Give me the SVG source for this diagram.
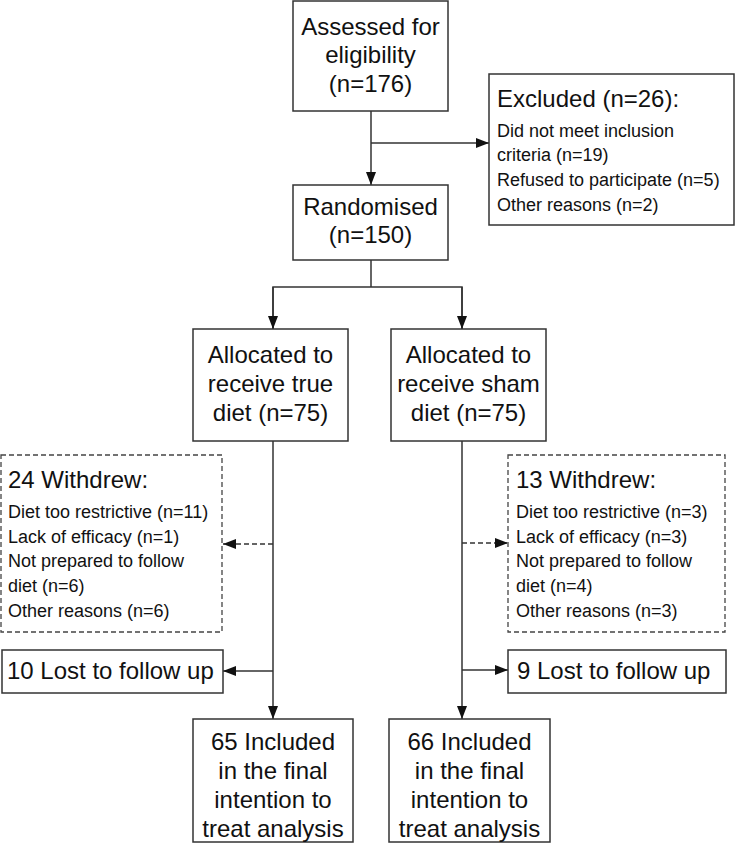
<svg xmlns="http://www.w3.org/2000/svg" width="736" height="853" viewBox="0 0 736 853">
<style>
  .box{fill:#fff;stroke:#333;stroke-width:1.5}
  .dash{fill:#fff;stroke:#444;stroke-width:1.3;stroke-dasharray:5,3}
  .big{font-family:"Liberation Sans",Arial,sans-serif;font-size:24px;fill:#111}
  .sm{font-family:"Liberation Sans",Arial,sans-serif;font-size:18px;fill:#111}
  .c{text-anchor:middle}
  .ln{fill:none;stroke:#333;stroke-width:1.5}
  .dl{fill:none;stroke:#333;stroke-width:1.3;stroke-dasharray:5,3}
</style>
<defs>
  <marker id="ah" markerUnits="userSpaceOnUse" markerWidth="14" markerHeight="10" refX="13" refY="5" orient="auto">
    <path d="M0,0 L13,5 L0,10 Z" fill="#111"/>
  </marker>
</defs>
<rect width="736" height="853" fill="#fff"/>
<g id="connectors">
  <line class="ln" x1="371" y1="111" x2="371" y2="185" marker-end="url(#ah)"/>
  <line class="ln" x1="371" y1="143" x2="489" y2="143" marker-end="url(#ah)"/>
  <polyline class="ln" points="371,260 371,287"/>
  <polyline class="ln" points="273,329 273,287 462,287 462,329" />
  <line class="ln" x1="273" y1="287" x2="273" y2="329" marker-end="url(#ah)"/>
  <line class="ln" x1="462" y1="287" x2="462" y2="329" marker-end="url(#ah)"/>
  <line class="ln" x1="273" y1="441" x2="273" y2="719" marker-end="url(#ah)"/>
  <line class="ln" x1="462" y1="441" x2="462" y2="719" marker-end="url(#ah)"/>
  <line class="dl" x1="273" y1="544" x2="223" y2="544" marker-end="url(#ah)"/>
  <line class="dl" x1="462" y1="543" x2="508" y2="543" marker-end="url(#ah)"/>
  <line class="ln" x1="273" y1="671" x2="223" y2="671" marker-end="url(#ah)"/>
  <line class="ln" x1="462" y1="670" x2="508" y2="670" marker-end="url(#ah)"/>
</g>
<g id="assessed">
  <rect class="box" x="293" y="1" width="155" height="110"/>
  <text class="big c" x="370.5" y="35">Assessed for</text>
  <text class="big c" x="370.5" y="63">eligibility</text>
  <text class="big c" x="370.5" y="92">(n=176)</text>
</g>
<g id="excluded">
  <rect class="box" x="489" y="74" width="245" height="151"/>
  <text class="big" x="497" y="107">Excluded (n=26):</text>
  <text class="sm" x="497" y="137">Did not meet inclusion</text>
  <text class="sm" x="497" y="161">criteria (n=19)</text>
  <text class="sm" x="497" y="186">Refused to participate (n=5)</text>
  <text class="sm" x="497" y="211">Other reasons (n=2)</text>
</g>
<g id="randomised">
  <rect class="box" x="293" y="185" width="155" height="75"/>
  <text class="big c" x="370.5" y="215">Randomised</text>
  <text class="big c" x="370.5" y="243">(n=150)</text>
</g>
<g id="alloc-true">
  <rect class="box" x="193" y="329" width="155" height="112"/>
  <text class="big c" x="270.5" y="363">Allocated to</text>
  <text class="big c" x="270.5" y="392">receive true</text>
  <text class="big c" x="270.5" y="421">diet (n=75)</text>
</g>
<g id="alloc-sham">
  <rect class="box" x="391" y="329" width="155" height="112"/>
  <text class="big c" x="468.5" y="363">Allocated to</text>
  <text class="big c" x="468.5" y="392">receive sham</text>
  <text class="big c" x="468.5" y="421">diet (n=75)</text>
</g>
<g id="withdrew-true">
  <rect class="dash" x="1" y="455" width="221" height="177"/>
  <text class="big" x="8" y="488">24 Withdrew:</text>
  <text class="sm" x="8" y="518">Diet too restrictive (n=11)</text>
  <text class="sm" x="8" y="543">Lack of efficacy (n=1)</text>
  <text class="sm" x="8" y="567">Not prepared to follow</text>
  <text class="sm" x="8" y="592">diet (n=6)</text>
  <text class="sm" x="8" y="617">Other reasons (n=6)</text>
</g>
<g id="withdrew-sham">
  <rect class="dash" x="508" y="455" width="217" height="177"/>
  <text class="big" x="516" y="488">13 Withdrew:</text>
  <text class="sm" x="516" y="518">Diet too restrictive (n=3)</text>
  <text class="sm" x="516" y="543">Lack of efficacy (n=3)</text>
  <text class="sm" x="516" y="567">Not prepared to follow</text>
  <text class="sm" x="516" y="592">diet (n=4)</text>
  <text class="sm" x="516" y="617">Other reasons (n=3)</text>
</g>
<g id="lost-true">
  <rect class="box" x="2" y="650" width="221" height="43"/>
  <text class="big" x="7" y="679">10 Lost to follow up</text>
</g>
<g id="lost-sham">
  <rect class="box" x="508" y="650" width="218" height="43"/>
  <text class="big" x="517" y="679">9 Lost to follow up</text>
</g>
<g id="included-true">
  <rect class="box" x="193" y="719" width="160" height="123"/>
  <text class="big c" x="273" y="750">65 Included</text>
  <text class="big c" x="273" y="779">in the final</text>
  <text class="big c" x="273" y="808">intention to</text>
  <text class="big c" x="273" y="837">treat analysis</text>
</g>
<g id="included-sham">
  <rect class="box" x="389" y="719" width="161" height="123"/>
  <text class="big c" x="469.5" y="750">66 Included</text>
  <text class="big c" x="469.5" y="779">in the final</text>
  <text class="big c" x="469.5" y="808">intention to</text>
  <text class="big c" x="469.5" y="837">treat analysis</text>
</g>
</svg>
